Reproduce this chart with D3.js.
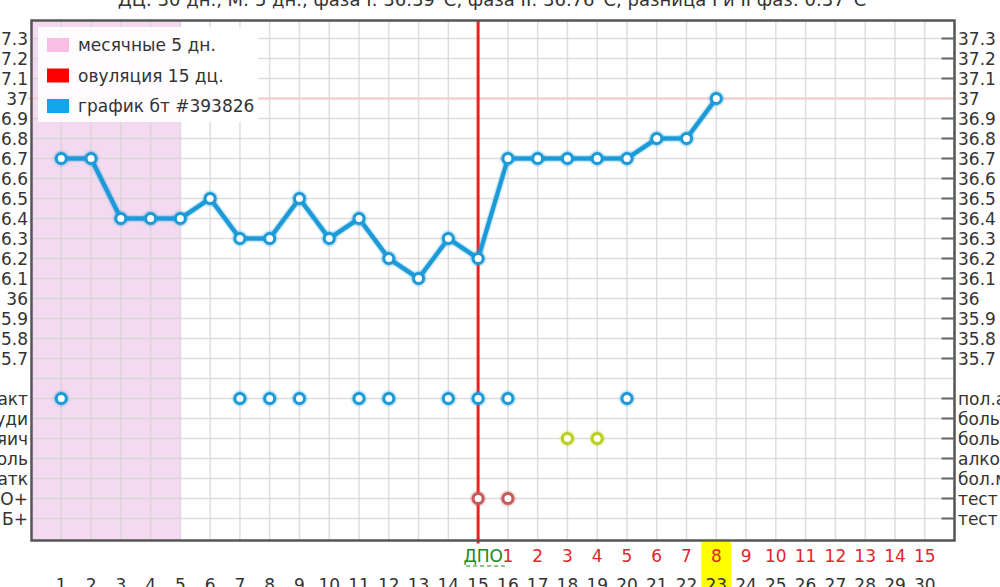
<!DOCTYPE html>
<html><head><meta charset="utf-8">
<script src="https://cdn.jsdelivr.net/npm/d3@7"></script>
<style>
html,body{margin:0;padding:0;background:#fff;overflow:hidden;}
text{font-family:"DejaVu Sans",sans-serif;}
</style></head>
<body>
<svg id="c" width="1000" height="587"></svg>
<script>
const title = "ДЦ: 30 дн., М: 5 дн., фаза I: 36.39°C, фаза II: 36.76°C, разница I и II фаз: 0.37°C";
const days = d3.range(1, 31);
const temps = [36.7,36.7,36.4,36.4,36.4,36.5,36.3,36.3,36.5,36.3,36.4,36.2,36.1,36.3,36.2,36.7,36.7,36.7,36.7,36.7,36.8,36.8,37.0];
const tempTicks = [37.3,37.2,37.1,37,36.9,36.8,36.7,36.6,36.5,36.4,36.3,36.2,36.1,36,35.9,35.8,35.7];
const rowLabelsLeft = ["пол.акт","боль груди","боль яич","алкоголь","бол.матк","тест О+","тест Б+"];
const rowLabelsRight = ["пол.акт","боль груди","боль яич","алкоголь","бол.матк","тест О+","тест Б+"];
const rowValues = [35.5,35.4,35.3,35.2,35.1,35.0,34.9];
const sexDays = [1,7,8,9,11,12,14,15,16,20];
const painDays = [18,19];
const ovTestDays = [15,16];
const mensDays = 5;
const ovulationDay = 15;
const highlightDay = 23;
const legendItems = [
  {label:"месячные 5 дн.", color:"#f8bfe2"},
  {label:"овуляция 15 дц.", color:"#ff0000"},
  {label:"график бт #393826", color:"#11a5ea"}
];

const svg = d3.select("#c");
const x = d3.scaleLinear().domain([0,31]).range([31.5,954.5]);
const y = d3.scaleLinear().domain([37,36]).range([98.5,298.5]);
const yTop = y(37.39), yBot = y(34.79);
const L = x(0), R = x(31);

const defs = svg.append("defs");
const glow = defs.append("filter").attr("id","glow").attr("x","-100%").attr("y","-100%").attr("width","300%").attr("height","300%");
glow.append("feGaussianBlur").attr("in","SourceGraphic").attr("stdDeviation",1.8).attr("result","b");
const fm = glow.append("feMerge");
fm.append("feMergeNode").attr("in","b");
fm.append("feMergeNode").attr("in","SourceGraphic");
const lglow = defs.append("filter").attr("id","lglow").attr("x","-10%").attr("y","-10%").attr("width","120%").attr("height","120%");
lglow.append("feGaussianBlur").attr("in","SourceGraphic").attr("stdDeviation",1).attr("result","b");
const fm2 = lglow.append("feMerge");
fm2.append("feMergeNode").attr("in","b");
fm2.append("feMergeNode").attr("in","SourceGraphic");

// title
svg.append("text").attr("x",492).attr("y",6).attr("text-anchor","middle")
  .attr("font-size",18).attr("fill","#333").text(title);

// menstrual band
svg.append("rect").attr("x",L).attr("y",yTop).attr("width",x(mensDays)-L).attr("height",yBot-yTop)
  .attr("fill","#f4daf0");

// grid
const gridVals = d3.range(0,25).map(i => +(37.3 - i*0.1).toFixed(1));
svg.append("g").selectAll("line").data(gridVals).join("line")
  .attr("x1",L).attr("x2",R).attr("y1",d=>y(d)).attr("y2",d=>y(d))
  .attr("stroke","#d3d3d3").attr("stroke-opacity",0.75).attr("stroke-width",1.5);
svg.append("g").selectAll("line").data(days).join("line")
  .attr("x1",d=>x(d)).attr("x2",d=>x(d)).attr("y1",yTop).attr("y2",yBot)
  .attr("stroke","#d3d3d3").attr("stroke-opacity",0.75).attr("stroke-width",1.5);

// 37 line
svg.append("line").attr("x1",L-4).attr("x2",R).attr("y1",y(37)).attr("y2",y(37))
  .attr("stroke","#f9c8cd").attr("stroke-width",2);

// ovulation line
svg.append("line").attr("x1",x(ovulationDay)).attr("x2",x(ovulationDay)).attr("y1",yTop).attr("y2",yBot+3)
  .attr("stroke","#f02020").attr("stroke-width",3);

// frame
svg.append("rect").attr("x",L).attr("y",yTop).attr("width",R-L).attr("height",yBot-yTop)
  .attr("fill","none").attr("stroke","#555").attr("stroke-width",2.5);

// ticks
const tickVals = tempTicks.concat(rowValues.slice(0,7));
tickVals.forEach(v=>{
  if (v===37) return;
  svg.append("line").attr("x1",R-13).attr("x2",R).attr("y1",y(v)).attr("y2",y(v)).attr("stroke","#666").attr("stroke-width",2);
});

// axis labels
svg.append("g").selectAll("text").data(tempTicks).join("text")
  .attr("x",28).attr("y",d=>y(d)).attr("dy","0.36em").attr("text-anchor","end")
  .attr("font-size",17).attr("fill","#333").text(d=>d3.format("")(d));
svg.append("g").selectAll("text").data(tempTicks).join("text")
  .attr("x",958).attr("y",d=>y(d)).attr("dy","0.36em").attr("text-anchor","start")
  .attr("font-size",17).attr("fill","#333").text(d=>d3.format("")(d));
svg.append("g").selectAll("text").data(rowLabelsLeft).join("text")
  .attr("x",28).attr("y",(d,i)=>y(rowValues[i])).attr("dy","0.36em").attr("text-anchor","end")
  .attr("font-size",17).attr("fill","#333").text(d=>d);
svg.append("g").selectAll("text").data(rowLabelsRight).join("text")
  .attr("x",958).attr("y",(d,i)=>y(rowValues[i])).attr("dy","0.36em").attr("text-anchor","start")
  .attr("font-size",17).attr("fill","#333").text(d=>d);

// temperature line
const line = d3.line().x((d,i)=>x(i+1)).y(d=>y(d));
svg.append("path").datum(temps).attr("d",line).attr("fill","none")
  .attr("stroke","#1d9ad8").attr("stroke-width",4).attr("stroke-linejoin","round").attr("filter","url(#lglow)");
svg.append("g").selectAll("circle").data(temps).join("circle")
  .attr("cx",(d,i)=>x(i+1)).attr("cy",d=>y(d)).attr("r",5)
  .attr("fill","#fff").attr("stroke","#1d9ad8").attr("stroke-width",3).attr("filter","url(#glow)");

// row markers
function rowDots(daysArr, rowIdx, color){
  svg.append("g").selectAll("circle").data(daysArr).join("circle")
    .attr("cx",d=>x(d)).attr("cy",y(rowValues[rowIdx])).attr("r",5)
    .attr("fill","#fff").attr("stroke",color).attr("stroke-width",3).attr("filter","url(#glow)");
}
rowDots(sexDays,0,"#1d9ad8");
rowDots(painDays,2,"#b8cf1c");
rowDots(ovTestDays,5,"#c55a5a");

// legend
const lg = svg.append("g");
lg.append("rect").attr("x",38).attr("y",27).attr("width",220).attr("height",95).attr("fill","#fff").attr("fill-opacity",0.9);
legendItems.forEach((it,i)=>{
  lg.append("rect").attr("x",47).attr("y",38+i*30.5).attr("width",22).attr("height",14).attr("fill",it.color);
  lg.append("text").attr("x",78).attr("y",45+i*30.5).attr("dy","0.36em").attr("font-size",17).attr("fill","#333").text(it.label);
});

// bottom labels
svg.append("rect").attr("x",x(highlightDay)-15).attr("y",542).attr("width",30).attr("height",50).attr("fill","#ffff00");
svg.append("text").attr("x",x(ovulationDay+1)-5).attr("y",562).attr("text-anchor","end")
  .attr("font-size",17).attr("fill","#1a8a1a").text("ДПО");
svg.append("line").attr("x1",x(ovulationDay)-12).attr("x2",x(ovulationDay+1)-3).attr("y1",566).attr("y2",566)
  .attr("stroke","#1a8a1a").attr("stroke-width",1.2).attr("stroke-dasharray","4,3");
svg.append("g").selectAll("text").data(days.filter(d=>d>ovulationDay)).join("text")
  .attr("x",d=>x(d)).attr("y",562).attr("text-anchor","middle")
  .attr("font-size",17).attr("fill","#e0262b").text(d=>d-ovulationDay);
svg.append("g").selectAll("text").data(days).join("text")
  .attr("x",d=>x(d)).attr("y",591).attr("text-anchor","middle")
  .attr("font-size",17).attr("fill","#333").text(d=>d);
</script>
</body></html>
